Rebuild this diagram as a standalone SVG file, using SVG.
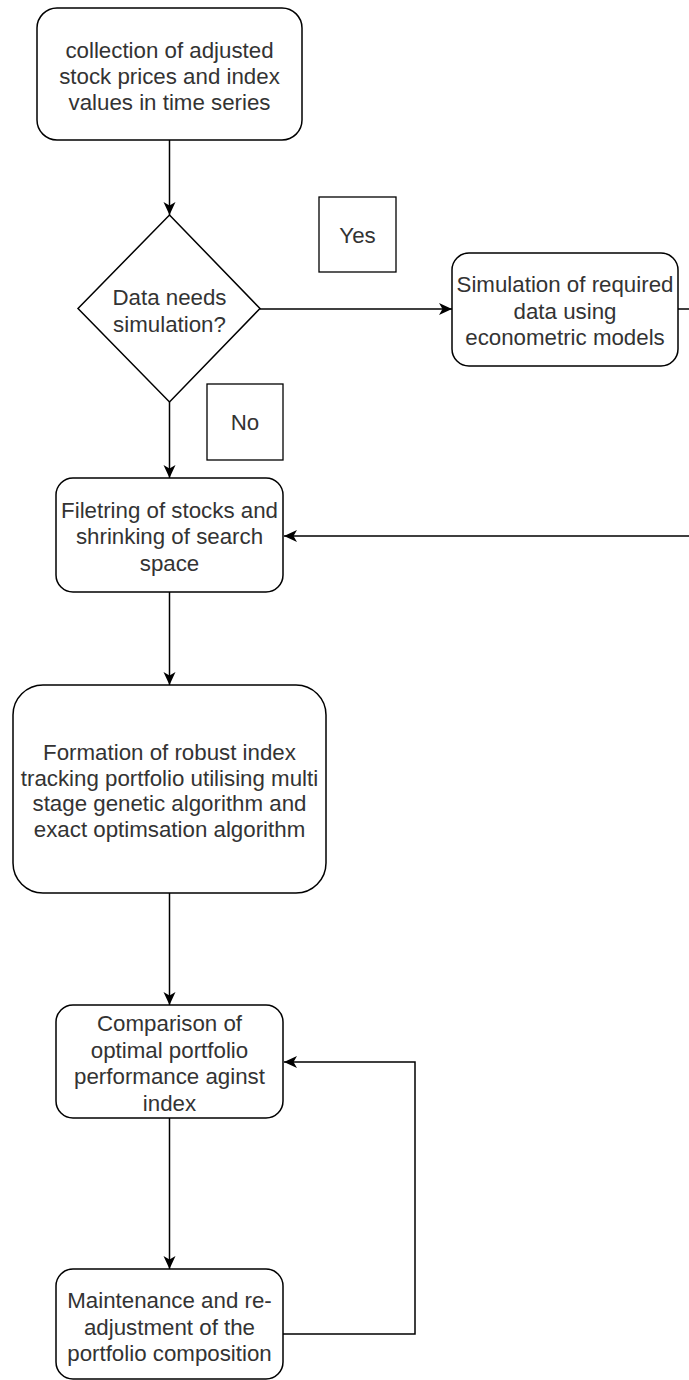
<svg xmlns="http://www.w3.org/2000/svg" width="689" height="1380" viewBox="0 0 689 1380">
<style>
.box{fill:#fff;stroke:#000;stroke-width:1.5}
.lbl{fill:#fff;stroke:#000;stroke-width:1.3}
.t{font-family:"Liberation Sans",Arial,sans-serif;font-size:22.3px;fill:#333;text-anchor:middle;dominant-baseline:central}
.c{fill:none;stroke:#000;stroke-width:1.5}
</style>
<defs>
<marker id="arr" markerUnits="userSpaceOnUse" markerWidth="14" markerHeight="14" viewBox="0 0 14 14" refX="13" refY="7" orient="auto">
<path d="M0,1 L13,7 L0,13 L3.5,7 Z" fill="#000"/>
</marker>
</defs>
<rect width="689" height="1380" fill="#fff"/>
<g id="connectors">
<path class="c" d="M169.5,140 V215" marker-end="url(#arr)"/>
<path class="c" d="M169.5,402 V478" marker-end="url(#arr)"/>
<path class="c" d="M260,309 H452" marker-end="url(#arr)"/>
<path class="c" d="M678,309 H700 V536 H284" marker-end="url(#arr)"/>
<path class="c" d="M169.5,592 V685" marker-end="url(#arr)"/>
<path class="c" d="M169.5,893 V1005" marker-end="url(#arr)"/>
<path class="c" d="M169.5,1118 V1269" marker-end="url(#arr)"/>
<path class="c" d="M283,1334 H415 V1062 H284" marker-end="url(#arr)"/>
</g>
<g id="collect">
<rect class="box" x="37" y="8" width="265" height="132" rx="20"/>
<text class="t" x="169.5" y="50">collection of adjusted</text>
<text class="t" x="169.5" y="76">stock prices and index</text>
<text class="t" x="169.5" y="102">values in time series</text>
</g>
<g id="decision">
<polygon class="box" points="169.5,215 260,308.5 169.5,402 78,308.5"/>
<text class="t" x="169.5" y="297">Data needs</text>
<text class="t" x="169.5" y="324">simulation?</text>
</g>
<g id="yes">
<rect class="lbl" x="319" y="197" width="77" height="75"/>
<text class="t" x="357.5" y="235">Yes</text>
</g>
<g id="no">
<rect class="lbl" x="207" y="384" width="76" height="76"/>
<text class="t" x="245" y="422">No</text>
</g>
<g id="simulate">
<rect class="box" x="452" y="253" width="226" height="113" rx="17"/>
<text class="t" x="565" y="284">Simulation of required</text>
<text class="t" x="565" y="311">data using</text>
<text class="t" x="565" y="337">econometric models</text>
</g>
<g id="filter">
<rect class="box" x="56" y="478" width="227" height="114" rx="17"/>
<text class="t" x="169.5" y="510">Filetring of stocks and</text>
<text class="t" x="169.5" y="536">shrinking of search</text>
<text class="t" x="169.5" y="563">space</text>
</g>
<g id="formation">
<rect class="box" x="13" y="685" width="313" height="208" rx="30"/>
<text class="t" x="169.5" y="752">Formation of robust index</text>
<text class="t" x="169.5" y="778">tracking portfolio utilising multi</text>
<text class="t" x="169.5" y="803">stage genetic algorithm and</text>
<text class="t" x="169.5" y="829">exact optimsation algorithm</text>
</g>
<g id="compare">
<rect class="box" x="56" y="1005" width="227" height="113" rx="17"/>
<text class="t" x="169.5" y="1023">Comparison of</text>
<text class="t" x="169.5" y="1050">optimal portfolio</text>
<text class="t" x="169.5" y="1076">performance aginst</text>
<text class="t" x="169.5" y="1103">index</text>
</g>
<g id="maintain">
<rect class="box" x="56" y="1269" width="227" height="110" rx="17"/>
<text class="t" x="169.5" y="1300">Maintenance and re-</text>
<text class="t" x="169.5" y="1327">adjustment of the</text>
<text class="t" x="169.5" y="1353">portfolio composition</text>
</g>
</svg>
